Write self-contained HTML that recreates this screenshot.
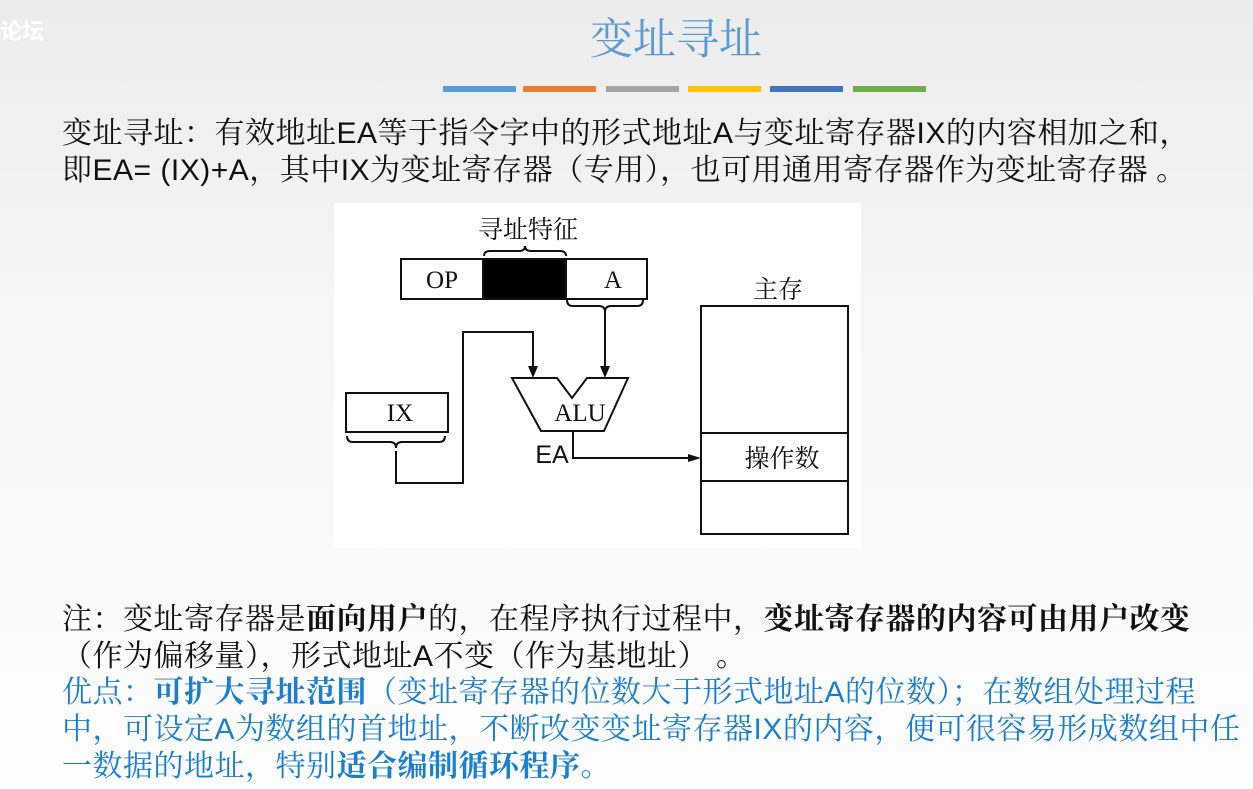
<!DOCTYPE html>
<html><head><meta charset="utf-8"><style>
html,body{margin:0;padding:0}
body{width:1253px;height:789px;position:relative;overflow:hidden;background:linear-gradient(#ececec,#f6f6f6 40%,#fdfdfd);font-family:"Liberation Serif","Noto Serif CJK SC",serif;}
.t{position:absolute;white-space:nowrap;font-size:30px;line-height:37px;color:#111;letter-spacing:0.5px}
.t span.l{font-family:"Liberation Sans","Noto Sans CJK SC",sans-serif;}
.b{font-weight:bold}
.blue{color:#1a7fd0}
.bar{position:absolute;top:86px;height:6px;width:73px}
</style></head><body>
<div style="position:absolute;left:0;top:14px;font-size:22px;color:#fff;font-family:'Noto Sans CJK SC',sans-serif;font-weight:bold">论坛</div>
<div style="position:absolute;left:590px;top:12px;font-size:43px;line-height:50px;color:#5b9bd5;font-family:'Noto Serif CJK SC',serif">变址寻址</div>
<div class="bar" style="left:443px;background:#5b9bd5"></div>
<div class="bar" style="left:523px;background:#ed7d31"></div>
<div class="bar" style="left:606px;background:#a5a5a5"></div>
<div class="bar" style="left:688px;background:#ffc000"></div>
<div class="bar" style="left:770px;background:#4472c4"></div>
<div class="bar" style="left:853px;background:#70ad47"></div>

<div class="t" style="left:62px;top:115px">变址寻址：有效地址<span class="l">EA</span>等于指令字中的形式地址<span class="l">A</span>与变址寄存器<span class="l">IX</span>的内容相加之和，</div>
<div class="t" style="left:62px;top:152px">即<span class="l">EA= (IX)+A</span>，其中<span class="l">IX</span>为变址寄存器（专用），也可用通用寄存器作为变址寄存器 。</div>

<svg style="position:absolute;left:0;top:0" width="1253" height="789">
<rect x="334" y="203" width="527" height="345" fill="#fff"/>
<g stroke="#111" stroke-width="2" fill="none">
<rect x="401" y="259" width="246" height="40" fill="#fff"/>
<rect x="483" y="259" width="83" height="40" fill="#000"/>
<path d="M484 256 q0 -5 6 -5 h29 q6 0 6 -5 q0 5 6 5 h29 q6 0 6 5"/>
<path d="M567 300 q0 6 6 6 h26 q6 0 6 6 q0 -6 6 -6 h26 q6 0 6 -6"/>
<path d="M605 312 V368"/>
<path d="M512 378 H557 L572 398 L587 378 H628 L604 431 H541 Z"/>
<rect x="346" y="393" width="102" height="39"/>
<path d="M347 436 q0 6 6 6 h37 q6 0 6 6 q0 -6 6 -6 h37 q6 0 6 -6"/>
<path d="M396 451 V483 H463 V332 H533 V368"/>
<path d="M573 431 V458 H692"/>
<rect x="701" y="306" width="147" height="228"/>
<path d="M701 433 H848 M701 481 H848"/>
</g>
<g fill="#111">
<path d="M600 366 L605 378 L610 366 Z"/>
<path d="M528 366 L533 378 L538 366 Z"/>
<path d="M688 454 L701 458 L688 462 Z"/>
</g>
<g font-family="Liberation Serif, Noto Serif CJK SC, serif" font-size="25" fill="#111" text-anchor="middle">
<text x="528" y="238">寻址特征</text>
<text x="442" y="288">OP</text>
<text x="613" y="288">A</text>
<text x="400" y="421">IX</text>
<text x="580" y="421">ALU</text>
<text x="778" y="298">主存</text>
<text x="782" y="467">操作数</text>
<text x="552" y="463" font-family="Liberation Sans, sans-serif">EA</text>
</g>
</svg>

<div class="t" style="left:62px;top:601px">注：变址寄存器是<span class="b">面向用户</span>的，在程序执行过程中，<span class="b">变址寄存器的内容可由用户改变</span></div>
<div class="t" style="left:62px;top:638px">（作为偏移量），形式地址<span class="l">A</span>不变（作为基地址） 。</div>
<div class="t blue" style="left:62px;top:674px">优点：<span class="b">可扩大寻址范围</span>（变址寄存器的位数大于形式地址<span class="l">A</span>的位数）；在数组处理过程</div>
<div class="t blue" style="left:62px;top:711px">中，可设定<span class="l">A</span>为数组的首地址，不断改变变址寄存器<span class="l">IX</span>的内容，便可很容易形成数组中任</div>
<div class="t blue" style="left:62px;top:748px">一数据的地址，特别<span class="b">适合编制循环程序</span>。</div>
</body></html>
